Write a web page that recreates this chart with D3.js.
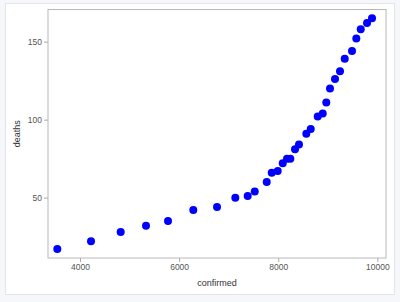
<!DOCTYPE html>
<html>
<head>
<meta charset="utf-8">
<script src="https://cdn.jsdelivr.net/npm/d3@7"></script>
<style>
  body { margin: 0; background: #f5f7fb; }
  svg { display: block; }
</style>
</head>
<body>
<svg class="chart" width="400" height="302"></svg>
<script>
var confirmed = [3542, 4222, 4821, 5332, 5776, 6286, 6765, 7134, 7384, 7526, 7768, 7869,
    7990, 8091, 8177, 8244, 8339, 8419, 8567, 8656, 8797, 8898, 8970, 9045, 9146,
    9247, 9342, 9489, 9576, 9665, 9792, 9893];
var deaths = [17, 22, 28, 32, 35, 42, 44, 50, 51, 54, 60, 66,
    67, 72, 75, 75, 81, 84, 91, 94, 102, 104, 111, 120, 126,
    131, 139, 144, 152, 158, 162, 165];
var xTicks = [4000, 6000, 8000, 10000];
var yTicks = [50, 100, 150];

var svg = d3.select(".chart");

// white panel
svg.append("rect")
    .attr("x", 5.5).attr("y", 3.5)
    .attr("width", 389).attr("height", 291)
    .attr("fill", "#fff")
    .attr("stroke", "#e2e4e8");

var plotLeft = 48, plotTop = 9.5, plotRight = 386, plotBottom = 258;

var xScale = d3.scaleLinear().domain([3354, 10175]).range([plotLeft, plotRight]);
var yScale = d3.scaleLinear().domain([11.3, 170.6]).range([plotBottom, plotTop]);

var xAxis = svg.append("g")
    .attr("transform", "translate(0," + plotBottom + ")")
    .call(d3.axisBottom(xScale).tickValues(xTicks).tickFormat(d3.format("d")).tickSize(4).tickSizeOuter(0));
var yAxis = svg.append("g")
    .attr("transform", "translate(" + plotLeft + ",0)")
    .call(d3.axisLeft(yScale).tickValues(yTicks).tickSize(4).tickSizeOuter(0));

[xAxis, yAxis].forEach(function(a) {
    a.select(".domain").remove();
    a.selectAll("line").attr("stroke", "#aaa");
    a.selectAll("text")
        .attr("fill", "#555")
        .style("font-family", "Arial, 'Liberation Sans', sans-serif")
        .style("font-size", "8.5px");
});
xAxis.selectAll("text").attr("y", 6);
yAxis.selectAll("text").attr("x", -6);

// frame
svg.append("rect")
    .attr("x", plotLeft).attr("y", plotTop)
    .attr("width", plotRight - plotLeft).attr("height", plotBottom - plotTop)
    .attr("fill", "none")
    .attr("stroke", "#b8b8b8");

svg.append("text")
    .attr("x", (plotLeft + plotRight) / 2)
    .attr("y", 286)
    .attr("text-anchor", "middle")
    .attr("fill", "#333")
    .style("font-family", "Arial, 'Liberation Sans', sans-serif")
    .style("font-size", "9px")
    .text("confirmed");

svg.append("text")
    .attr("transform", "translate(20," + (plotTop + plotBottom) / 2 + ") rotate(-90)")
    .attr("text-anchor", "middle")
    .attr("fill", "#333")
    .style("font-family", "Arial, 'Liberation Sans', sans-serif")
    .style("font-size", "9px")
    .text("deaths");

svg.append("g")
    .selectAll("circle")
    .data(confirmed)
    .enter()
    .append("circle")
    .attr("cx", function(d) { return xScale(d); })
    .attr("cy", function(d, i) { return yScale(deaths[i]); })
    .attr("r", 4)
    .attr("fill", "#0000ff");
</script>
</body>
</html>
